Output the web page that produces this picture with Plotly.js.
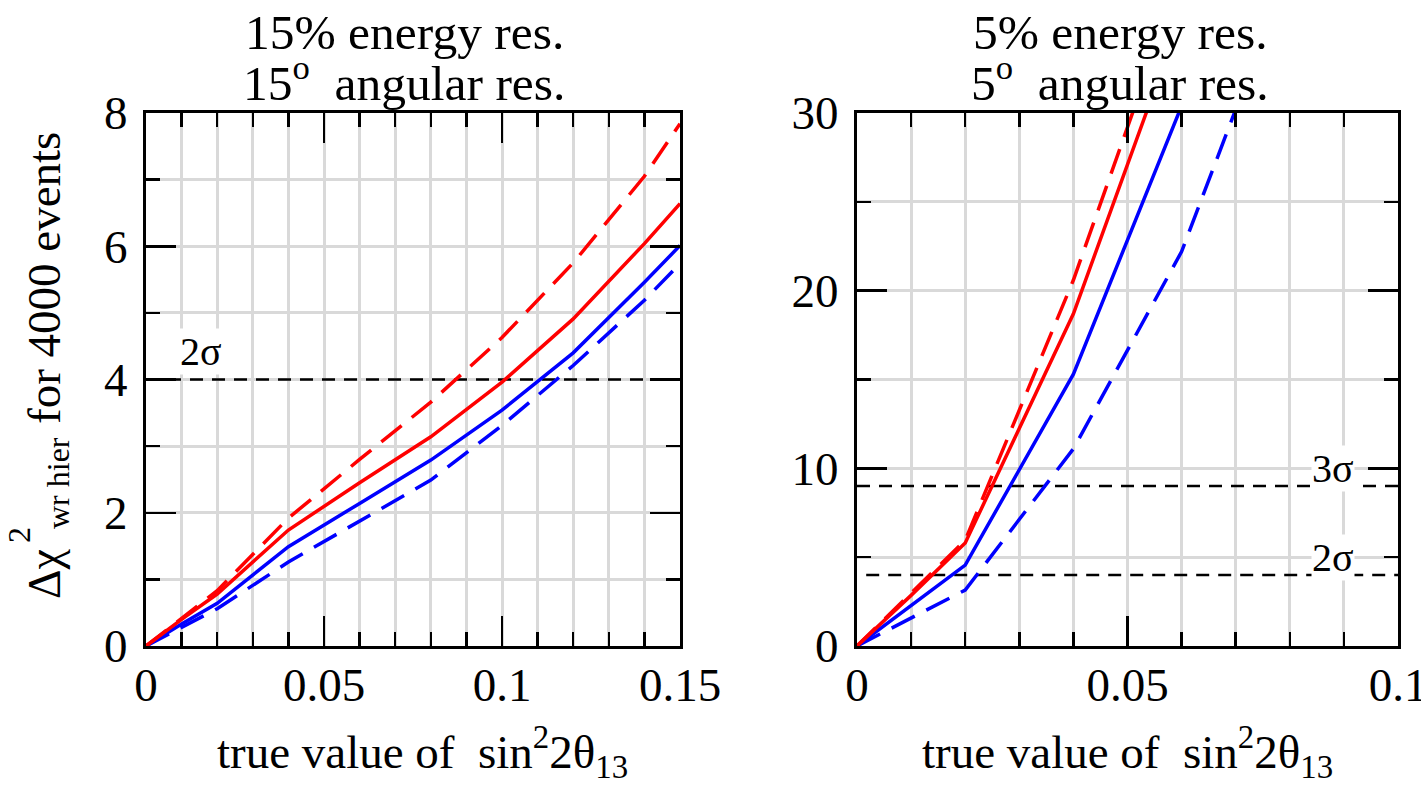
<!DOCTYPE html>
<html>
<head>
<meta charset="utf-8">
<script src="https://cdn.plot.ly/plotly-3.0.1.min.js"></script>
<style>
html,body{margin:0;padding:0;background:#fff;}
#chart{width:1421px;height:787px;}
</style>
</head>
<body>
<div id="chart"></div>
<script>
// ---- Left panel: 15% energy res., 15 deg angular res. ----
const xLeft = [0, 0.01, 0.02, 0.04, 0.06, 0.08, 0.10, 0.12, 0.14, 0.15];
const leftRedDashed  = [0, 0.41, 0.83, 1.92, 2.80, 3.66, 4.63, 5.75, 7.05, 7.84];
const leftRedSolid   = [0, 0.40, 0.78, 1.74, 2.45, 3.14, 3.96, 4.91, 6.04, 6.64];
const leftBlueSolid  = [0, 0.33, 0.64, 1.49, 2.14, 2.79, 3.54, 4.40, 5.46, 6.01];
const leftBlueDashed = [0, 0.28, 0.56, 1.26, 1.87, 2.49, 3.31, 4.21, 5.19, 5.74];

// ---- Right panel: 5% energy res., 5 deg angular res. ----
const xRight = [0, 0.01, 0.02, 0.04, 0.06, 0.07];
const rightRedDashed  = [0, 2.95, 5.95, 20.6, 37.8, null];
const rightRedSolid   = [0, 2.85, 5.80, 18.7, 35.5, null];
const rightBlueSolid  = [0, 2.25, 4.55, 15.3, 30.4, null];
const rightBlueDashed = [0, 1.55, 3.15, 11.1, 22.2, 30.2];

// ---- reference levels ----
const leftSigmaLevels = [4];
const leftSigmaLabels = ['2σ'];
const rightSigmaLevels = [9, 4];
const rightSigmaLabels = ['3σ', '2σ'];

const leftXTicks = [0, 0.05, 0.1, 0.15];
const leftYTicks = [0, 2, 4, 6, 8];
const rightXTicks = [0, 0.05, 0.1];
const rightYTicks = [0, 10, 20, 30];

const FONT = '"Liberation Serif", "Times New Roman", "DejaVu Serif", serif';
const RED = '#ff0000', BLUE = '#0000ff';
const DASH = '26px,13px';

function curve(x, y, color, dash, xa, ya) {
  return {x: x, y: y, xaxis: xa, yaxis: ya, type: 'scatter', mode: 'lines',
          line: {color: color, width: 3.5, dash: dash}, showlegend: false,
          hoverinfo: 'skip', connectgaps: false};
}
function level(y, x0, x1, xa, ya) {
  return {x: [x0, x1], y: [y, y], xaxis: xa, yaxis: ya, type: 'scatter', mode: 'lines',
          line: {color: '#000', width: 2.5, dash: '13px,9px'}, showlegend: false, hoverinfo: 'skip'};
}

const data = [];
leftSigmaLevels.forEach(v => data.push(level(v, 0, 0.15, 'x', 'y')));
rightSigmaLevels.forEach((v, i) => data.push(level(v, i === 0 ? 0 : 0.0017, 0.1, 'x2', 'y2')));
data.push(curve(xLeft, leftBlueDashed, BLUE, DASH, 'x', 'y'));
data.push(curve(xLeft, leftBlueSolid, BLUE, 'solid', 'x', 'y'));
data.push(curve(xLeft, leftRedSolid, RED, 'solid', 'x', 'y'));
data.push(curve(xLeft, leftRedDashed, RED, DASH, 'x', 'y'));
data.push(curve(xRight, rightBlueDashed, BLUE, DASH, 'x2', 'y2'));
data.push(curve(xRight, rightBlueSolid, BLUE, 'solid', 'x2', 'y2'));
data.push(curve(xRight, rightRedSolid, RED, 'solid', 'x2', 'y2'));
data.push(curve(xRight, rightRedDashed, RED, DASH, 'x2', 'y2'));

const W = 1421, H = 787;
const px = v => v / W, py = v => 1 - v / H;

function axis(domain, range, tickvals, minorStep, anchor) {
  return {
    domain: domain, range: range, anchor: anchor, autorange: false,
    tickmode: 'array', tickvals: tickvals, ticktext: tickvals.map(String),
    ticks: 'inside', ticklen: 30, tickwidth: 2.5, tickcolor: '#000',
    showline: true, linewidth: 3, linecolor: '#000', mirror: 'ticks',
    showgrid: true, gridcolor: '#d9d9d9', gridwidth: 3,
    zeroline: false, ticklabeloverflow: 'allow',
    minor: {dtick: minorStep, ticks: 'inside', ticklen: 14, tickwidth: 2.5, tickcolor: '#000',
            showgrid: true, gridcolor: '#d9d9d9', gridwidth: 3},
    tickfont: {family: FONT, size: 47, color: '#000'},
    fixedrange: true
  };
}

const xa1 = axis([px(146), px(680)], [0, 0.15], leftXTicks, 0.01, 'y');
const ya1 = axis([py(646), py(113)], [0, 8], leftYTicks, 1, 'x');
const xa2 = axis([px(857), px(1398)], [0, 0.1], rightXTicks, 0.01, 'y2');
const ya2 = axis([py(646), py(113)], [0, 30], rightYTicks, 5, 'x2');
[xa1, xa2].forEach(a => { a.ticklabelstandoff = -4; });
[ya1, ya2].forEach(a => { a.ticklabelstandoff = 6; });

function txt(text, x, y, size, opts) {
  return Object.assign({text: text, xref: 'paper', yref: 'paper', x: px(x), y: py(y),
    showarrow: false, xanchor: 'center', yanchor: 'middle',
    font: {family: FONT, size: size, color: '#000'}}, opts || {});
}

const annotations = [
  txt('15% energy res.', 404, 32, 49.5),
  txt('15<sup>o</sup>  angular res.', 404, 80, 49.5),
  txt('5% energy res.', 1120, 32, 49.5),
  txt('5<sup>o</sup>  angular res.', 1120, 80, 49.5),
  txt('true value of  sin<sup>2</sup>2θ<sub>13</sub>', 422, 752, 47),
  txt('true value of  sin<sup>2</sup>2θ<sub>13</sub>', 1127, 752, 47),
  // y title pieces (rotated)
  txt('Δχ', 44, 574, 46, {textangle: -90}),
  txt('2', 19, 535, 32, {textangle: -90}),
  txt('wr hier', 58, 483, 32, {textangle: -90}),
  txt('for 4000 events', 44, 278, 47, {textangle: -90})
];
leftSigmaLevels.forEach((v, i) => annotations.push({
  text: leftSigmaLabels[i], xref: 'x', yref: 'y', x: 0.0155, y: 4.42, showarrow: false,
  xanchor: 'center', yanchor: 'middle', bgcolor: '#fff', borderpad: 0,
  font: {family: FONT, size: 40, color: '#000'}}));
const rightLabelY = [10.0, 5.0];
rightSigmaLevels.forEach((v, i) => annotations.push({
  text: rightSigmaLabels[i], xref: 'x2', yref: 'y2', x: 0.088, y: rightLabelY[i], showarrow: false,
  xanchor: 'center', yanchor: 'middle', bgcolor: '#fff', borderpad: 0,
  font: {family: FONT, size: 40, color: '#000'}}));

const layout = {
  width: W, height: H,
  margin: {l: 0, r: 0, t: 0, b: 0},
  paper_bgcolor: '#fff', plot_bgcolor: '#fff',
  showlegend: false,
  xaxis: xa1, yaxis: ya1, xaxis2: xa2, yaxis2: ya2,
  annotations: annotations,
  font: {family: FONT, color: '#000'}
};

Plotly.newPlot('chart', data, layout, {displayModeBar: false, staticPlot: true});
</script>
</body>
</html>
